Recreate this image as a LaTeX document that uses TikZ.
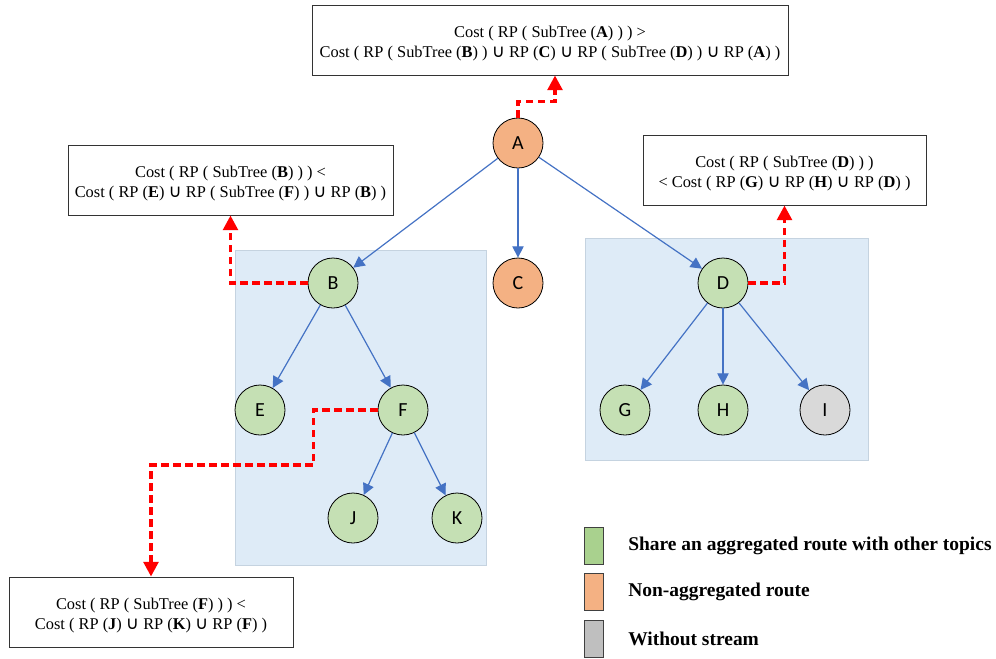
\documentclass[tikz,border=0pt]{standalone}
\usepackage{fontspec}
\setmainfont{Liberation Serif}
\newfontfamily\nodefont{Carlito}
\newfontfamily\symfnt{DejaVu Sans}
\newcommand{\un}{{\symfnt\fontsize{13.5}{15}\selectfont ∪}}
\newcommand{\costtxt}[1]{\raisebox{-2.4pt}[\height][\depth]{\begin{tabular}{@{}c@{}}#1\end{tabular}}}
\usetikzlibrary{arrows.meta,calc}
\definecolor{gfill}{HTML}{C5E0B4}
\definecolor{ofill}{HTML}{F4B183}
\definecolor{ifill}{HTML}{D9D9D9}
\definecolor{lgreen}{HTML}{A9D18E}
\definecolor{lgray}{HTML}{BFBFBF}
\definecolor{bgblue}{HTML}{DEEBF7}
\definecolor{bgline}{HTML}{C5D3E0}
\definecolor{edgeblue}{HTML}{4472C4}
\begin{document}
\begin{tikzpicture}[x=0.75pt,y=-0.75pt,
  tnode/.style={circle,draw=black,line width=0.6pt,minimum size=37.5pt,inner sep=0pt,font=\nodefont\fontsize{15}{16}\selectfont},
  gnode/.style={tnode,fill=gfill},
  onode/.style={tnode,fill=ofill},
  inode/.style={tnode,fill=ifill},
  costbox/.style={draw=black!80,line width=0.7pt,fill=white,minimum height=52.5pt,inner sep=2pt,font=\fontsize{12.3}{15}\selectfont},
  treeedge/.style={draw=edgeblue,line width=0.9pt,-{Triangle[length=8.5pt,width=8.5pt]}},
  redpath/.style={draw=red,line width=2.6pt,dash pattern=on 5.5pt off 3.5pt,-{Triangle[length=11pt,width=11pt]}},
  region/.style={fill=bgblue,draw=bgline,line width=0.6pt},
  legsq/.style={draw=black!75,line width=0.6pt,minimum width=14.25pt,minimum height=27.75pt,inner sep=0pt},
  legtext/.style={anchor=west,font=\bfseries\fontsize{14.6}{16}\selectfont,inner sep=0pt}
]
\useasboundingbox (0,0) rectangle (996,658);
% regions
\path[region] (235,250) rectangle (486,565);
\path[region] (585,238) rectangle (868,460);
% tree nodes
\node[onode] (A) at (518,143) {A};
\node[gnode] (B) at (333,283) {B};
\node[onode] (C) at (518,283) {C};
\node[gnode] (D) at (723,283) {D};
\node[gnode] (E) at (260,410) {E};
\node[gnode] (F) at (403,410) {F};
\node[gnode] (J) at (353,518) {J};
\node[gnode] (K) at (457,518) {K};
\node[gnode] (G) at (625,410) {G};
\node[gnode] (H) at (723,410) {H};
\node[inode] (I) at (825,410) {I};
% edges
\draw[treeedge] (A) -- (B);
\draw[treeedge] (A) -- (C);
\draw[treeedge] (A) -- (D);
\draw[treeedge] (B) -- (E);
\draw[treeedge] (B) -- (F);
\draw[treeedge] (F) -- (J);
\draw[treeedge] (F) -- (K);
\draw[treeedge] (D) -- (G);
\draw[treeedge] (D) -- (H);
\draw[treeedge] (D) -- (I);
% cost boxes
\node[costbox,minimum width=357pt] (top) at (550,40) {\costtxt{Cost ( RP ( SubTree (\textbf{A}) ) ) >\\Cost ( RP ( SubTree (\textbf{B}) ) \un{} RP (\textbf{C}) \un{} RP ( SubTree (\textbf{D}) ) \un{} RP (\textbf{A}) )}};
\node[costbox,minimum width=243.75pt] (lbox) at (230.5,180) {\costtxt{Cost ( RP ( SubTree (\textbf{B}) ) ) <\\Cost ( RP (\textbf{E}) \un{} RP ( SubTree (\textbf{F}) ) \un{} RP (\textbf{B}) )}};
\node[costbox,minimum width=212.25pt] (rbox) at (784.5,170) {\costtxt{Cost ( RP ( SubTree (\textbf{D}) ) )\\< Cost ( RP (\textbf{G}) \un{} RP (\textbf{H}) \un{} RP (\textbf{D}) )}};
\node[costbox,minimum width=213pt] (bbox) at (151,612) {\costtxt{Cost ( RP ( SubTree (\textbf{F}) ) ) <\\Cost ( RP (\textbf{J}) \un{} RP (\textbf{K}) \un{} RP (\textbf{F}) )}};
% red dashed
\draw[redpath] (A.north) -- ++(0,-16) -| ($(top.south)+(5,0)$);
\draw[redpath] (B.west) -| (lbox.south);
\draw[redpath] (D.east) -| (rbox.south);
\draw[redpath] (F.west) -- ++(-64,0) -- ++(0,55) -| (bbox.north);
% legend
\node[legsq,fill=lgreen] (lg1) at (593.5,545.5) {};
\node[legsq,fill=ofill] (lg2) at (593.5,592) {};
\node[legsq,fill=lgray] (lg3) at (593.5,639) {};
\node[legtext] (lt1) at (628,546) {Share an aggregated route with other topics};
\node[legtext] (lt2) at (628,592) {Non-aggregated route};
\node[legtext] (lt3) at (628,639) {Without stream};
\end{tikzpicture}
\end{document}
